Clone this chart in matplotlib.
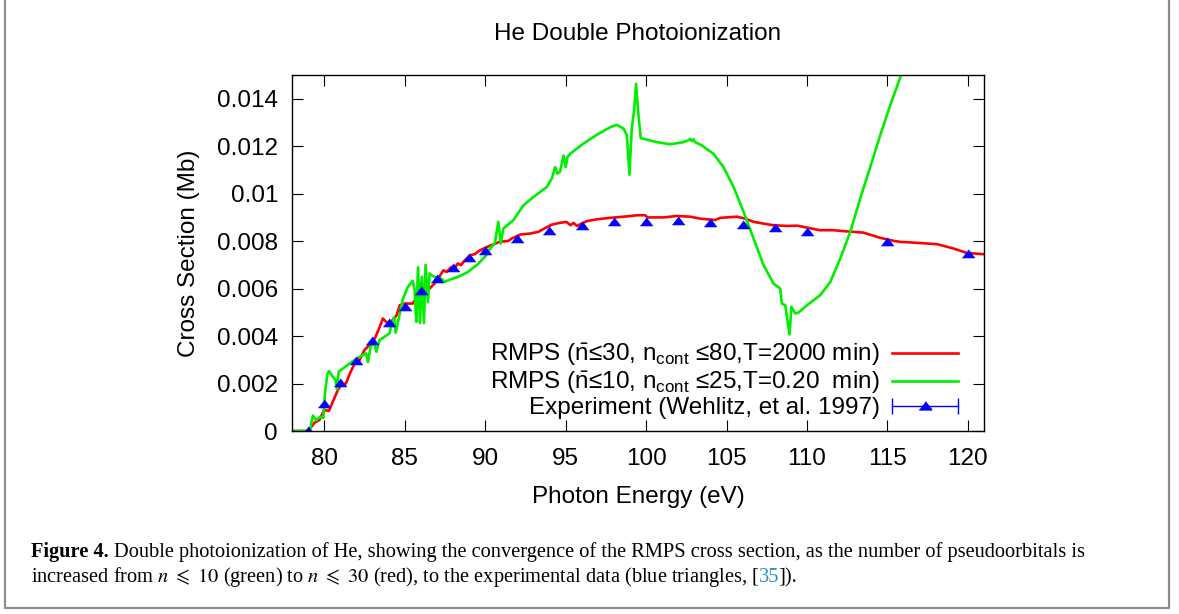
import matplotlib
matplotlib.use('Agg')
import matplotlib.pyplot as plt
from matplotlib.lines import Line2D
from matplotlib.legend_handler import HandlerBase
from matplotlib.font_manager import FontProperties
from matplotlib.ticker import MultipleLocator, FuncFormatter

# RMPS, nbar<=30 (red)
rmps30_E = [78.0, 79.0, 79.4, 79.7, 80.0, 80.3, 80.45, 80.85, 81.05, 81.35, 81.6, 81.9, 82.2,
            82.5, 82.9, 83.15, 83.45, 83.65, 83.85, 84.05, 84.25, 84.5, 84.7, 85.0, 85.5, 85.7,
            86.0, 86.25, 86.45, 86.85, 87.15, 87.4, 87.6, 87.9, 88.1, 88.3, 88.5, 88.75, 89.05,
            89.35, 89.7, 90.2, 90.9, 91.45, 91.65, 92.2, 92.8, 93.3, 93.6, 94.15, 94.65, 95.05,
            95.3, 95.5, 95.7, 96.3, 96.95, 97.75, 98.6, 99.45, 99.95, 100.1, 100.25, 101.1, 101.9,
            102.75, 103.35, 103.8, 104.3, 104.6, 105.65, 106.15, 106.7, 107.3, 107.9, 108.75,
            109.4, 110.0, 110.8, 111.65, 112.3, 113.5, 114.55, 115.4, 115.8, 116.8, 118.1, 119.1,
            119.95, 121.0]
rmps30_sigma = [0.0, 0.0, 0.00035, 0.00046, 0.00088, 0.00085, 0.0011, 0.00173, 0.00194, 0.0020,
                0.00243, 0.00285, 0.00299, 0.00341, 0.00369, 0.0039, 0.00439, 0.00474, 0.0046,
                0.00453, 0.00467, 0.00488, 0.0053, 0.00537, 0.00537, 0.00558, 0.00621, 0.006,
                0.00593, 0.00621, 0.00649, 0.00677, 0.0067, 0.00691, 0.00685, 0.00706, 0.00699,
                0.0072, 0.0074, 0.00745, 0.00762, 0.00778, 0.00797, 0.00801, 0.00811, 0.00828,
                0.00832, 0.00839, 0.0085, 0.0087, 0.00877, 0.00881, 0.00867, 0.00877, 0.00864,
                0.00884, 0.00892, 0.00898, 0.00903, 0.00909, 0.00909, 0.00899, 0.009, 0.009,
                0.00906, 0.00903, 0.00895, 0.00892, 0.00889, 0.00898, 0.00903, 0.00895, 0.00881,
                0.00874, 0.00867, 0.00864, 0.00865, 0.00857, 0.00846, 0.00846, 0.00842, 0.00836,
                0.00814, 0.00801, 0.00797, 0.00793, 0.00787, 0.00769, 0.0075, 0.00745]

# RMPS, nbar<=10 (green)
rmps10_E = [78.0, 79.1, 79.3, 79.5, 79.75, 79.95, 80.05, 80.2, 80.3, 80.5, 80.7, 80.8, 80.9, 81.3,
            81.9, 82.4, 82.6, 82.72, 82.88, 83.1, 83.24, 83.45, 83.75, 84.05, 84.2, 84.34, 84.44,
            84.7, 84.9, 85.2, 85.5, 85.62, 85.72, 85.83, 85.95, 86.07, 86.2, 86.3, 86.45, 86.55,
            86.66, 86.86, 87.28, 87.48, 87.7, 88.3, 88.93, 89.55, 90.07, 90.3, 90.6, 90.82, 90.97,
            91.13, 91.75, 92.38, 93.0, 93.83, 94.14, 94.35, 94.49, 94.66, 94.87, 95.01, 95.11,
            95.28, 96.11, 96.94, 97.77, 98.18, 98.6, 98.81, 98.97, 99.11, 99.26, 99.38, 99.53,
            99.67, 100.67, 101.5, 102.32, 102.64, 102.74, 102.85, 102.95, 103.05, 103.47, 104.19,
            104.81, 105.44, 106.06, 106.68, 107.3, 107.92, 108.34, 108.44, 108.65, 108.8, 108.92,
            109.03, 109.28, 109.48, 110.0, 110.82, 111.45, 112.07, 112.69, 113.31, 113.93, 114.55,
            115.17, 115.8, 116.0]
rmps10_sigma = [0.0, 0.0, 0.00065, 0.00045, 0.0006, 0.00055, 0.0016, 0.0024, 0.00252, 0.00232,
                0.00215, 0.00175, 0.0025, 0.0027, 0.003, 0.0032, 0.00327, 0.0029, 0.00355,
                0.00375, 0.00334, 0.00383, 0.00397, 0.00411, 0.0045, 0.00478, 0.00414, 0.00495,
                0.00558, 0.00607, 0.00633, 0.00593, 0.0046, 0.0069, 0.00455, 0.0065, 0.00455,
                0.007, 0.00544, 0.00664, 0.00657, 0.00649, 0.00642, 0.00628, 0.00635, 0.00649,
                0.0067, 0.00703, 0.0074, 0.00769, 0.0079, 0.00881, 0.0079, 0.00853, 0.00888,
                0.00951, 0.00986, 0.01028, 0.01063, 0.01112, 0.01084, 0.01093, 0.01161, 0.01112,
                0.01154, 0.01168, 0.01211, 0.01248, 0.0128, 0.0129, 0.01274, 0.01246, 0.0108,
                0.01274, 0.01351, 0.01463, 0.0133, 0.01234, 0.01217, 0.01208, 0.01217, 0.01225,
                0.01231, 0.01222, 0.01229, 0.01217, 0.01203, 0.01168, 0.01112, 0.01028, 0.00923,
                0.00811, 0.00699, 0.00621, 0.006, 0.00537, 0.0053, 0.0046, 0.00407, 0.00523,
                0.00495, 0.00499, 0.0053, 0.00572, 0.00628, 0.00727, 0.00839, 0.00979, 0.01112,
                0.01246, 0.01372, 0.01491, 0.0153]

# experiment (Wehlitz et al. 1997)
exp_E = [79, 80, 81, 82, 83, 84, 85, 86, 87, 88, 89, 90, 92, 94, 96, 98, 100, 102, 104, 106,
         108, 110, 115, 120]
exp_sigma = [0.0, 0.00112, 0.00201, 0.00295, 0.0038, 0.00453, 0.00523, 0.00589, 0.0064, 0.00686,
             0.00727, 0.00759, 0.00807, 0.00842, 0.00863, 0.0088, 0.0088, 0.00885, 0.00878,
             0.00868, 0.00857, 0.00839, 0.00797, 0.00745]

labels = [r'RMPS ($\mathrm{\bar{n}}$≤30, n$_{\mathrm{cont}}$ ≤80,T=2000 min)',
          r'RMPS ($\mathrm{\bar{n}}$≤10, n$_{\mathrm{cont}}$ ≤25,T=0.20  min)',
          'Experiment (Wehlitz, et al. 1997)']

plt.rcParams['font.family'] = ['Liberation Sans', 'DejaVu Sans']
plt.rcParams['mathtext.fontset'] = 'custom'
plt.rcParams['mathtext.rm'] = 'Liberation Sans'
plt.rcParams['mathtext.it'] = 'Liberation Sans:italic'

W, H = 1179, 614
FS = 17.5
RED, GREEN, BLUE = '#ff0000', '#00ee00', '#0000ff'
tri = [(-1, -0.55), (1, -0.55), (0, 0.75)]  # flat gnuplot-like triangle


class ErrHandler(HandlerBase):  # legend sample: horizontal error bar with a triangle
    def create_artists(self, legend, orig_handle, xdescent, ydescent, width, height, fontsize, trans):
        y = height / 2 - ydescent
        bar = Line2D([-xdescent, width - xdescent], [y, y], color=BLUE, lw=1,
                     marker='|', ms=11, mew=1)
        pt = Line2D([width / 2 - xdescent], [y], ls='none', marker=tri, ms=9, color=BLUE)
        bar.set_transform(trans)
        pt.set_transform(trans)
        return [bar, pt]


fig = plt.figure(figsize=(W / 100, H / 100), dpi=100)
ax = fig.add_axes([292 / W, 1 - 431 / H, (984 - 292) / W, (431 - 75) / H])

l1, = ax.plot(rmps30_E, rmps30_sigma, color=RED, lw=1.9)
l2, = ax.plot(rmps10_E, rmps10_sigma, color=GREEN, lw=1.9)
l3, = ax.plot(exp_E, exp_sigma, ls='none', marker=tri, ms=9, color=BLUE, mew=0.5)

ax.set_xlim(78, 121)
ax.set_ylim(0, 0.015)
ax.xaxis.set_major_locator(MultipleLocator(5))
ax.yaxis.set_major_locator(MultipleLocator(0.002))
ax.yaxis.set_major_formatter(FuncFormatter(lambda v, p: '%g' % round(v, 6)))
ax.tick_params(direction='in', top=True, right=True, length=8, width=0.8, labelsize=FS)
ax.tick_params(axis='x', pad=12)
ax.tick_params(axis='y', pad=10)
for s in ax.spines.values():
    s.set_linewidth(1.0)

ax.set_title('He Double Photoionization', fontsize=FS, pad=25)
ax.set_xlabel('Photon Energy (eV)', fontsize=FS, labelpad=12)
ax.set_ylabel('Cross Section (Mb)', fontsize=FS, labelpad=12)

leg = ax.legend([l1, l2, l3], labels, loc='lower right', bbox_to_anchor=(0.962, 0.033),
                markerfirst=False, frameon=False, handlelength=2.7, handletextpad=0.5,
                labelspacing=0.05, borderpad=0, borderaxespad=0,
                handler_map={l3: ErrHandler()},
                prop=FontProperties(family='Liberation Sans', size=FS))

# gray frame around the figure + caption
frame = Line2D([5 / W, 5 / W, 1169 / W, 1169 / W], [1.01, 1 - 608 / H, 1 - 608 / H, 1.01],
               transform=fig.transFigure, color='#8c8c8c', lw=1.6, clip_on=False)
fig.add_artist(frame)

r = fig.canvas.get_renderer()
cap_kw = dict(family='Liberation Serif', fontsize=14.65, math_fontfamily='stix')
x0 = 31 / W
t = fig.text(x0, 1 - 557 / H, 'Figure 4.', fontweight='bold', **cap_kw)
x = t.get_window_extent(r).x1 / W + 5 / W
fig.text(x, 1 - 557 / H, 'Double photoionization of He, showing the convergence of the RMPS '
         'cross section, as the number of pseudoorbitals is', **cap_kw)
t = fig.text(x0, 1 - 582 / H, r'increased from $n\ \leqslant\ 10$ (green) to $n\ \leqslant\ 30$ (red), '
             'to the experimental data (blue triangles, [', **cap_kw)
x = t.get_window_extent(r).x1 / W - 1 / W
t = fig.text(x, 1 - 582 / H, '35', color='#2d8fc4', **cap_kw)
x = t.get_window_extent(r).x1 / W - 1 / W
fig.text(x, 1 - 582 / H, ']).', **cap_kw)

fig.savefig('out.png', dpi=100)
